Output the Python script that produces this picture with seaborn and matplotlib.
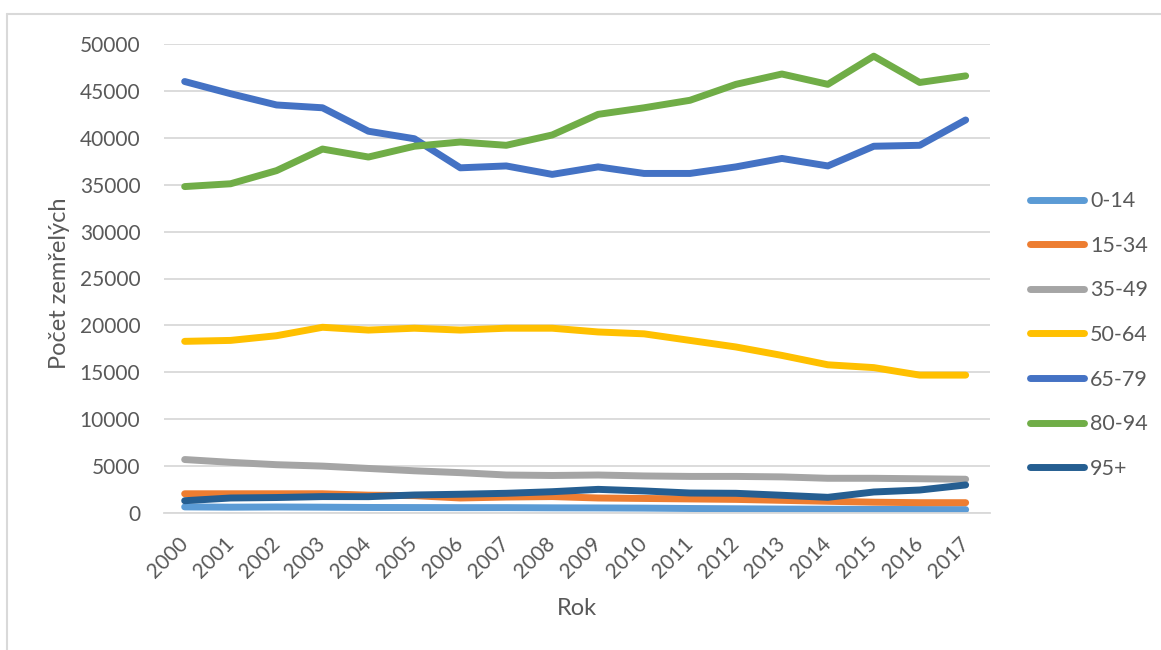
import matplotlib
matplotlib.use("Agg")
import matplotlib.pyplot as plt
from matplotlib.lines import Line2D
import seaborn as sns
import pandas as pd

years = list(range(2000, 2018))
age_groups = ["0-14", "15-34", "35-49", "50-64", "65-79", "80-94", "95+"]

deaths_0_14 = [650, 620, 640, 620, 590, 580, 570, 570, 550, 540, 520, 480, 450, 420, 400, 380, 370, 360]
deaths_15_34 = [2050, 2050, 2050, 2050, 1900, 1850, 1600, 1700, 1750, 1600, 1550, 1500, 1450, 1350, 1250, 1150, 1100, 1100]
deaths_35_49 = [5700, 5400, 5150, 5000, 4750, 4500, 4300, 4050, 4000, 4050, 3950, 3900, 3900, 3850, 3700, 3700, 3650, 3600]
deaths_50_64 = [18300, 18400, 18900, 19800, 19500, 19700, 19500, 19700, 19700, 19300, 19100, 18400, 17700, 16800, 15800, 15500, 14700, 14700]
deaths_65_79 = [46000, 44700, 43500, 43200, 40700, 39900, 36800, 37000, 36100, 36900, 36200, 36200, 36900, 37800, 37000, 39100, 39200, 41900]
deaths_80_94 = [34800, 35100, 36500, 38800, 37950, 39100, 39550, 39200, 40300, 42500, 43200, 44000, 45700, 46800, 45700, 48700, 45900, 46600]
deaths_95_plus = [1310, 1600, 1650, 1750, 1740, 1920, 2000, 2100, 2270, 2520, 2350, 2130, 2100, 1890, 1670, 2240, 2450, 2990]

series = [deaths_0_14, deaths_15_34, deaths_35_49, deaths_50_64,
          deaths_65_79, deaths_80_94, deaths_95_plus]
colors = ["#5B9BD5", "#ED7D31", "#A5A5A5", "#FFC000", "#4472C4", "#70AD47", "#255E91"]

rows = []
for group, values in zip(age_groups, series):
    for i, (yr, v) in enumerate(zip(years, values)):
        rows.append({"idx": i, "Rok": str(yr), "Skupina": group, "Počet": v})
df = pd.DataFrame(rows)

sns.set_theme(style="white")
plt.rcParams["font.family"] = ["Lato", "DejaVu Sans"]
text_color = "#595959"
grid_color = "#D9D9D9"
fs = 15

fig = plt.figure(figsize=(11.61, 6.5), dpi=100)
ax = fig.add_axes([164 / 1161, 1 - 513 / 650, (990 - 164) / 1161, (513 - 44) / 650])

sns.lineplot(data=df, x="idx", y="Počet", hue="Skupina", hue_order=age_groups,
             palette=colors, linewidth=5, ax=ax, legend=False,
             solid_capstyle="round", solid_joinstyle="round")

ax.set_xlim(-0.45, 17.53)
ax.set_ylim(0, 50000)
ax.set_yticks(range(0, 50001, 5000))
ax.set_yticklabels([str(v) for v in range(0, 50001, 5000)])
ax.set_xticks(range(len(years)))
ax.set_xticklabels([str(y) for y in years])

ax.grid(axis="y", color=grid_color, linewidth=1.3)
ax.grid(axis="x", visible=False)
ax.set_axisbelow(True)
for side in ["top", "right", "left"]:
    ax.spines[side].set_visible(False)
ax.spines["bottom"].set_color(grid_color)
ax.spines["bottom"].set_linewidth(1.3)

ax.tick_params(axis="y", length=0, pad=17, labelsize=fs, labelcolor=text_color)
ax.tick_params(axis="x", length=0, pad=20, labelsize=fs, labelcolor=text_color)
for lbl in ax.get_xticklabels():
    lbl.set_rotation(45)
    lbl.set_ha("right")
    lbl.set_va("center")
    lbl.set_rotation_mode("anchor")

ax.set_xlabel("Rok", fontsize=fs + 2, color=text_color)
ax.set_ylabel("Počet zemřelých", fontsize=fs + 2, color=text_color)
ax.xaxis.set_label_coords(0.5, -0.182)
ax.yaxis.set_label_coords(-0.114, 0.49)

handles = [Line2D([0], [0], color=c, linewidth=5, solid_capstyle="round") for c in colors]
leg = ax.legend(handles, age_groups, loc="center left",
                bbox_to_anchor=(1030 / 1161, 1 - 335 / 650),
                bbox_transform=fig.transFigure, frameon=False,
                fontsize=fs + 0.5, handlelength=2.5, handletextpad=0.3,
                labelspacing=1.14, borderpad=0, borderaxespad=0)
for t in leg.get_texts():
    t.set_color(text_color)

# chart-area border (left and top edges)
fig.add_artist(Line2D([7 / 1161, 7 / 1161], [0, 1 - 14 / 650], transform=fig.transFigure,
                      color=grid_color, linewidth=1.5))
fig.add_artist(Line2D([7 / 1161, 1], [1 - 14 / 650, 1 - 14 / 650], transform=fig.transFigure,
                      color=grid_color, linewidth=1.5))

fig.savefig("out.png", dpi=100, facecolor="white")
